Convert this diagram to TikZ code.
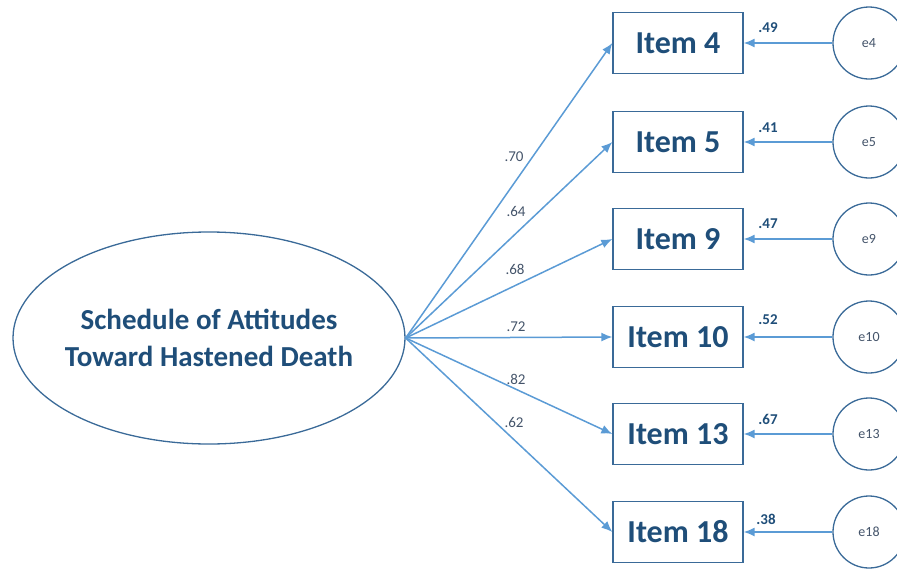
\documentclass[tikz,border=0pt]{standalone}
\usepackage{fontspec}
\setmainfont{Carlito}
\usetikzlibrary{arrows.meta,shapes.geometric}
\definecolor{txtblue}{HTML}{1F4E79}
\definecolor{lineblue}{HTML}{5B9BD5}
\definecolor{boxblue}{HTML}{3A6A98}
\definecolor{errtxt}{HTML}{44546A}
\tikzset{
  itembox/.style={draw=boxblue, line width=1.3pt, minimum width=130pt, minimum height=61pt, inner sep=0pt, font=\bfseries\fontsize{32}{34}\selectfont, text=txtblue},
  errcirc/.style={circle, draw=boxblue, line width=1.3pt, minimum size=72pt, inner sep=0pt, font=\fontsize{14}{16}\selectfont, text=errtxt},
  latent/.style={ellipse, draw=boxblue, line width=1.3pt, minimum width=392pt, minimum height=212pt, inner sep=0pt},
  latenttext/.style={align=center, inner sep=0pt, font=\bfseries\fontsize{29}{37}\selectfont, text=txtblue},
  path arrow/.style={draw=lineblue, line width=1.5pt, -{Latex[length=11pt,width=9pt]}},
  loadlbl/.style={font=\fontsize{15}{17}\selectfont, text=errtxt, inner sep=0pt},
  errlbl/.style={font=\bfseries\fontsize{15}{17}\selectfont, text=txtblue, inner sep=0pt}
}
\begin{document}
\begin{tikzpicture}[x=1pt,y=-1pt]
\useasboundingbox (0,0) rectangle (897,568);
\clip (0,0) rectangle (897,568);
\node[latent] (F) at (209,338) {};
\node[latenttext] (Ft) at (F.center) {Schedule of Attitudes\\Toward Hastened Death};
\node[itembox] (i4) at (678,43) {Item 4};
\node[itembox] (i5) at (678,142) {Item 5};
\node[itembox] (i9) at (678,239) {Item 9};
\node[itembox] (i10) at (678,337) {Item 10};
\node[itembox] (i13) at (678,434) {Item 13};
\node[itembox] (i18) at (678,532) {Item 18};
\node[errcirc] (e4) at (869,43) {e4};
\node[errcirc] (e5) at (869,142) {e5};
\node[errcirc] (e9) at (869,239) {e9};
\node[errcirc] (e10) at (869,337) {e10};
\node[errcirc] (e13) at (869,434) {e13};
\node[errcirc] (e18) at (869,532) {e18};
\foreach \i in {4,5,9,10,13,18}{
  \draw[path arrow] (F.east) -- (i\i.west);
  \draw[path arrow] (e\i.west) -- (i\i.east);
}
\node[loadlbl] (l4) at (514,157) {.70};
\node[loadlbl] (l5) at (516,211) {.64};
\node[loadlbl] (l9) at (515,269) {.68};
\node[loadlbl] (l10) at (516,327) {.72};
\node[loadlbl] (l13) at (516,379) {.82};
\node[loadlbl] (l18) at (514,422) {.62};
\node[errlbl] (r4) at (768,28) {.49};
\node[errlbl] (r5) at (768,128) {.41};
\node[errlbl] (r9) at (768,224) {.47};
\node[errlbl] (r10) at (768,320) {.52};
\node[errlbl] (r13) at (768,419) {.67};
\node[errlbl] (r18) at (766,519) {.38};
\end{tikzpicture}
\end{document}
